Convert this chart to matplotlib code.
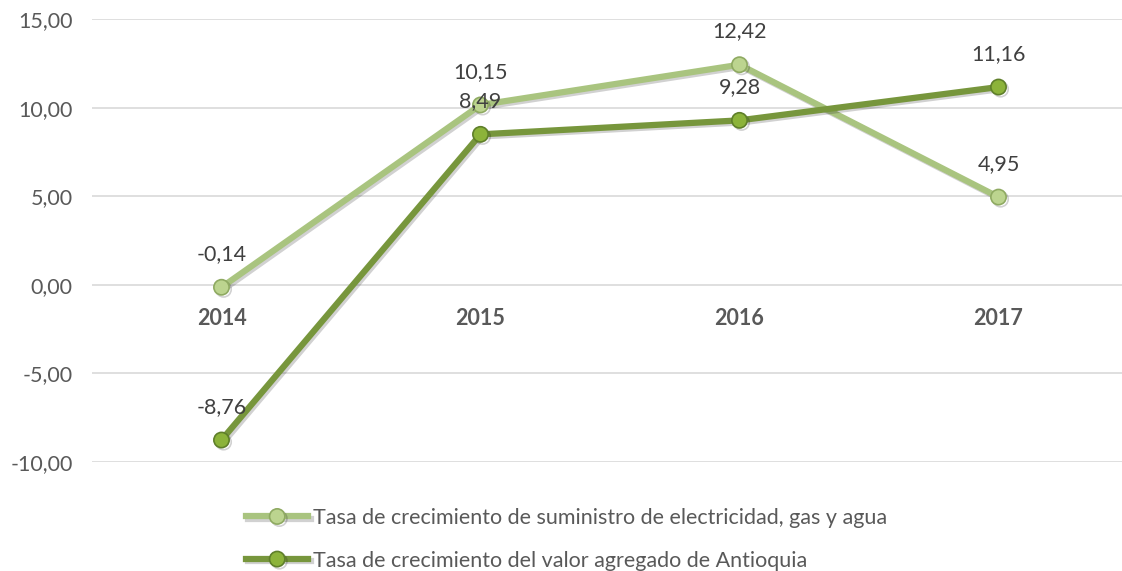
import matplotlib
matplotlib.use("Agg")
import matplotlib.pyplot as plt
import matplotlib.patheffects as pe

# Datos del grafico
anios = ["2014", "2015", "2016", "2017"]
suministro = [-0.14, 10.15, 12.42, 4.95]
valor_agregado = [-8.76, 8.49, 9.28, 11.16]
nombre_suministro = "Tasa de crecimiento de suministro de electricidad, gas y agua"
nombre_valor = "Tasa de crecimiento del valor agregado de Antioquia"
ticks_y = [-10, -5, 0, 5, 10, 15]

plt.rcParams['font.family'] = ['Lato', 'DejaVu Sans']

fig = plt.figure(figsize=(11.22, 5.71), dpi=100)
ax = fig.add_axes([92 / 1122, 1 - 462 / 571, 1036 / 1122, 443 / 571])

gris = '#595959'
fs = 15.5
x = list(range(len(anios)))

# el eje x pasa por el cero
ax.spines['bottom'].set_position(('data', 0))

sombra = [pe.SimpleLineShadow(offset=(1.5, -1.5), alpha=0.18, shadow_color='black'), pe.Normal()]

l1, = ax.plot(x, suministro, color='#A9C47F', lw=4.5, marker='o', ms=11,
              mfc='#BCD48F', mec='#8FAA62', mew=1.2, zorder=3,
              label=nombre_suministro, path_effects=sombra)
l2, = ax.plot(x, valor_agregado, color='#77963C', lw=4.5, marker='o', ms=11,
              mfc='#8CB33A', mec='#5F7F2A', mew=1.2, zorder=4,
              label=nombre_valor, path_effects=sombra)

# Etiquetas de datos
for serie in (suministro, valor_agregado):
    for i, v in enumerate(serie):
        ax.annotate(f"{v:.2f}".replace('.', ','), (i, v), xytext=(0, 24),
                    textcoords='offset points', ha='center', va='center',
                    fontsize=fs, color='#404040', zorder=6)

ax.set_xlim(-0.5, 3.5)
ax.set_ylim(-10, 15)
ax.set_yticks(ticks_y)
ax.set_yticklabels([f"{t:.2f}".replace('.', ',') for t in ticks_y], fontsize=fs, color=gris)
ax.set_xticks(x)
ax.set_xticklabels(anios, fontsize=fs, color=gris, fontweight='bold')
ax.tick_params(axis='both', length=0)
ax.tick_params(axis='y', pad=14)
ax.tick_params(axis='x', pad=17)
for s in ax.spines.values():
    s.set_visible(False)
ax.grid(axis='y', color='#D9D9D9', lw=1.2)
ax.set_axisbelow(True)

fig.legend(handles=[l1, l2], loc='upper left', bbox_to_anchor=(246 / 1122, 1 - 508 / 571),
           frameon=False, fontsize=fs, labelcolor=gris, handlelength=2.9,
           handletextpad=0.2, labelspacing=1.05, borderpad=0, borderaxespad=0)

fig.savefig("out.png", dpi=100)
